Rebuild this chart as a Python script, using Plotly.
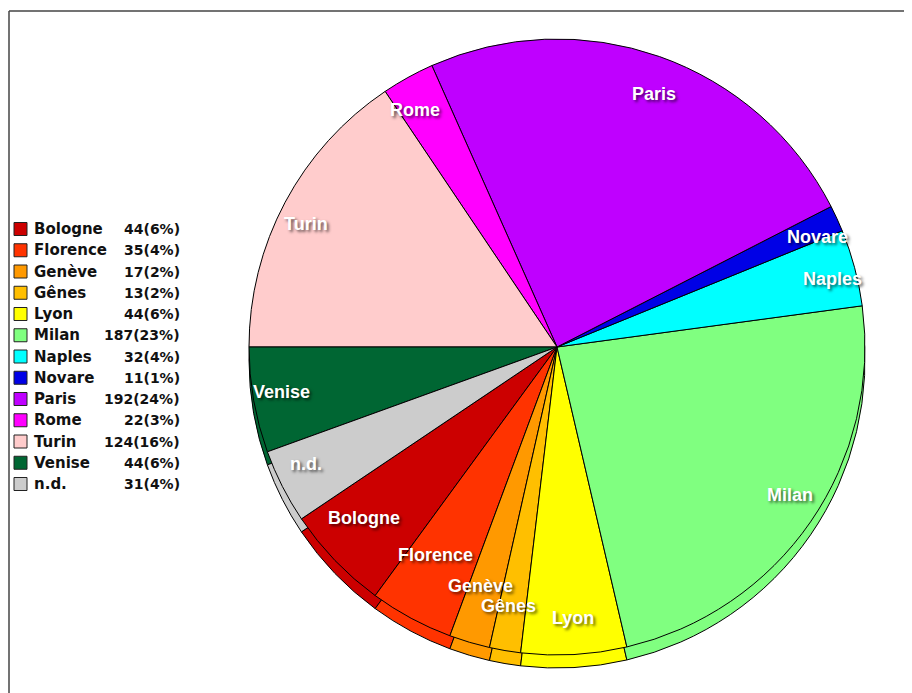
import math
import plotly.graph_objects as go

# ---- data ----
cities = ["Bologne", "Florence", "Genève", "Gênes", "Lyon", "Milan", "Naples",
          "Novare", "Paris", "Rome", "Turin", "Venise", "n.d."]
counts = [44, 35, 17, 13, 44, 187, 32, 11, 192, 22, 124, 44, 31]
colors = ["#CC0000", "#FF3300", "#FF9900", "#FFBF00", "#FFFF00", "#80FF80", "#00FFFF",
          "#0000E6", "#BF00FF", "#FF00FF", "#FFCCCC", "#006633", "#CCCCCC"]

# ---- geometry / style (pixel positions in page coordinates) ----
W, H = 912, 693
OFF = 8                      # page body margin
CX, CY, R = 557, 347, 308
DEPTH = 13
LAB_RX, LAB_RY = 320, 295    # label ellipse
label_r = [0.835, 0.80, 0.844, 0.89, 0.92, 0.886, 0.89, 0.896, 0.91, 0.92, 0.89, 0.874, 0.88]


def pxx(x):
    return (x - OFF) / W


def pxy(y):
    return 1 - (y - OFF) / H


total = sum(counts)
# Venise/Turin boundary sits at 9 o'clock, slices run counterclockwise
start_math = 180 + (counts[-2] + counts[-1]) / total * 360      # start of first slice (math deg)
rotation = 90 - (start_math + counts[0] / total * 360)          # plotly: end of first slice for ccw


def dom(cy):
    return dict(x=[pxx(CX - R), pxx(CX + R)], y=[pxy(cy + R), pxy(cy - R)])


fig = go.Figure()
pie_common = dict(values=counts, labels=cities, sort=False, direction="counterclockwise",
                  rotation=rotation, textinfo="none", hoverinfo="label+value+percent",
                  marker=dict(colors=colors, line=dict(color="black", width=1)),
                  showlegend=False)
# side (depth) of the pie
fig.add_trace(go.Pie(domain=dom(CY + DEPTH), **pie_common))
# top face
fig.add_trace(go.Pie(domain=dom(CY), **pie_common))

annotations = []
shapes = []

# slice labels
acc = start_math
for name, v, f in zip(cities, counts, label_r):
    ang = acc + v / total * 360 / 2
    acc += v / total * 360
    px = CX + f * LAB_RX * math.cos(math.radians(ang))
    py = CY - f * LAB_RY * math.sin(math.radians(ang))
    annotations.append(dict(
        x=pxx(px), y=pxy(py), xref="paper", yref="paper", text=name, showarrow=False,
        xanchor="center", yanchor="middle",
        font=dict(family="Liberation Sans, Arial", size=18, color="white", weight="bold",
                  shadow="2px 2px 3px rgba(0,0,0,0.6)")))

# legend
LX_BOX, LX_TXT, LX_VAL, LY0, LDY, BOX = 14, 32, 182, 229, 21.25, 13
for i, (name, v, c) in enumerate(zip(cities, counts, colors)):
    y = LY0 + i * LDY
    pct = int(math.floor(v / total * 100 + 0.5))
    shapes.append(dict(type="rect", xref="paper", yref="paper",
                       x0=pxx(LX_BOX), x1=pxx(LX_BOX + BOX),
                       y0=pxy(y + BOX / 2), y1=pxy(y - BOX / 2),
                       fillcolor=c, line=dict(color="#222", width=1)))
    annotations.append(dict(x=pxx(LX_TXT), y=pxy(y), xref="paper", yref="paper",
                            text=name, showarrow=False, xanchor="left", yanchor="middle",
                            font=dict(family="DejaVu Sans", size=15, color="#111", weight="bold")))
    annotations.append(dict(x=pxx(LX_VAL), y=pxy(y), xref="paper", yref="paper",
                            text=f"{v}({pct}%)", showarrow=False, xanchor="right", yanchor="middle",
                            font=dict(family="DejaVu Sans", size=14, color="#111", weight="bold")))

# frame
shapes.append(dict(type="line", xref="paper", yref="paper", x0=pxx(9), x1=pxx(9),
                   y0=pxy(11), y1=-0.05, line=dict(color="#444", width=1.5)))
shapes.append(dict(type="line", xref="paper", yref="paper", x0=pxx(9), x1=1.05,
                   y0=pxy(11), y1=pxy(11), line=dict(color="#444", width=1.5)))

fig.update_layout(width=W, height=H, margin=dict(l=0, r=0, t=0, b=0),
                  paper_bgcolor="white", plot_bgcolor="white",
                  annotations=annotations, shapes=shapes)

fig.write_html("out.html")
